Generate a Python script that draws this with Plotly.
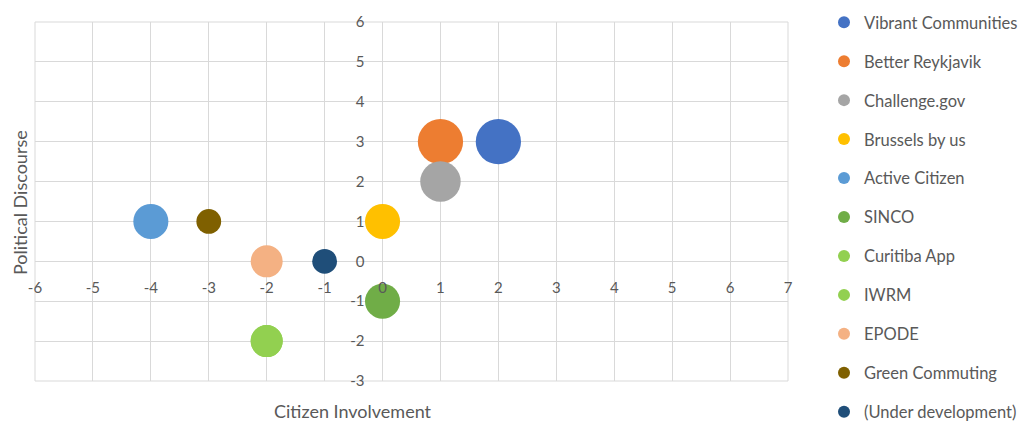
import plotly.graph_objects as go

# Projects positioned by citizen involvement vs. political discourse
projects = [
    "Vibrant Communities", "Better Reykjavik", "Challenge.gov", "Brussels by us",
    "Active Citizen", "SINCO", "Curitiba App", "IWRM", "EPODE",
    "Green Commuting", "(Under development)",
]
involvement = [2, 1, 1, 0, -4, 0, -2, -2, -2, -3, -1]
discourse = [3, 3, 2, 1, 1, -1, -2, -2, 0, 1, 0]
weight = [10, 10, 8, 6, 6, 6, 5, 5, 5, 3, 3]
colors = [
    "#4472C4", "#ED7D31", "#A5A5A5", "#FFC000", "#5B9BD5", "#70AD47",
    "#92D050", "#92D050", "#F4B183", "#7F6000", "#1F4E79",
]

x_ticks = list(range(-6, 8))
y_ticks = list(range(-3, 7))

FONT = "Lato"
TXT = "#595959"
GRID = "#D9D9D9"
W, H = 1025, 425
sizeref = max(weight) / 32 ** 2

fig = go.Figure()
for name, xv, yv, w, c in zip(projects, involvement, discourse, weight, colors):
    fig.add_trace(go.Scatter(
        x=[xv], y=[yv], mode="markers", name=name, legendgroup=name,
        marker=dict(size=[w], sizemode="area", sizeref=sizeref, color=c,
                    opacity=1, line=dict(width=0)),
    ))

fig.update_layout(
    width=W, height=H,
    margin=dict(l=35, r=237, t=22, b=44, autoexpand=False),
    paper_bgcolor="white", plot_bgcolor="white",
    font=dict(family=FONT, size=15, color=TXT),
    showlegend=True,
    legend=dict(
        xref="container", yref="container",
        x=824 / W, y=1 - 5 / H, xanchor="left", yanchor="top",
        font=dict(family=FONT, size=16.5, color=TXT),
        itemsizing="constant", tracegroupgap=14.5, maxheight=600,
        bgcolor="rgba(0,0,0,0)",
    ),
    xaxis=dict(
        range=[-6, 7], tickvals=x_ticks, ticktext=[str(v) for v in x_ticks],
        showgrid=True, gridcolor=GRID, gridwidth=1,
        zeroline=True, zerolinecolor=GRID, zerolinewidth=1,
        showline=False, anchor="free", position=3 / 9,
        ticks="outside", ticklen=13, tickcolor="rgba(0,0,0,0)",
        tickfont=dict(family=FONT, size=15, color=TXT),
        fixedrange=True,
    ),
    yaxis=dict(
        range=[-3, 6], tickvals=y_ticks, ticktext=[str(v) for v in y_ticks],
        showgrid=True, gridcolor=GRID, gridwidth=1,
        zeroline=True, zerolinecolor=GRID, zerolinewidth=1,
        showline=False, anchor="free", position=6 / 13,
        ticks="outside", ticklen=15, tickcolor="rgba(0,0,0,0)",
        tickfont=dict(family=FONT, size=15, color=TXT),
        fixedrange=True,
    ),
    annotations=[
        dict(text="Political Discourse", xref="paper", yref="paper",
             x=(20.5 - 35) / 753, y=(381 - 202.5) / 359, textangle=-90,
             xanchor="center", yanchor="middle",
             showarrow=False, font=dict(family=FONT, size=18, color=TXT)),
        dict(text="Citizen Involvement", xref="paper", yref="paper",
             x=(353 - 35) / 753, y=(381 - 411) / 359,
             xanchor="center", yanchor="middle", showarrow=False,
             font=dict(family=FONT, size=18, color=TXT)),
    ],
)

# Outer frame drawn in the grid colour
fig.add_shape(type="rect", xref="paper", yref="paper", x0=0, y0=0, x1=1, y1=1,
              line=dict(color=GRID, width=1), layer="below")

fig.write_html("out.html")
